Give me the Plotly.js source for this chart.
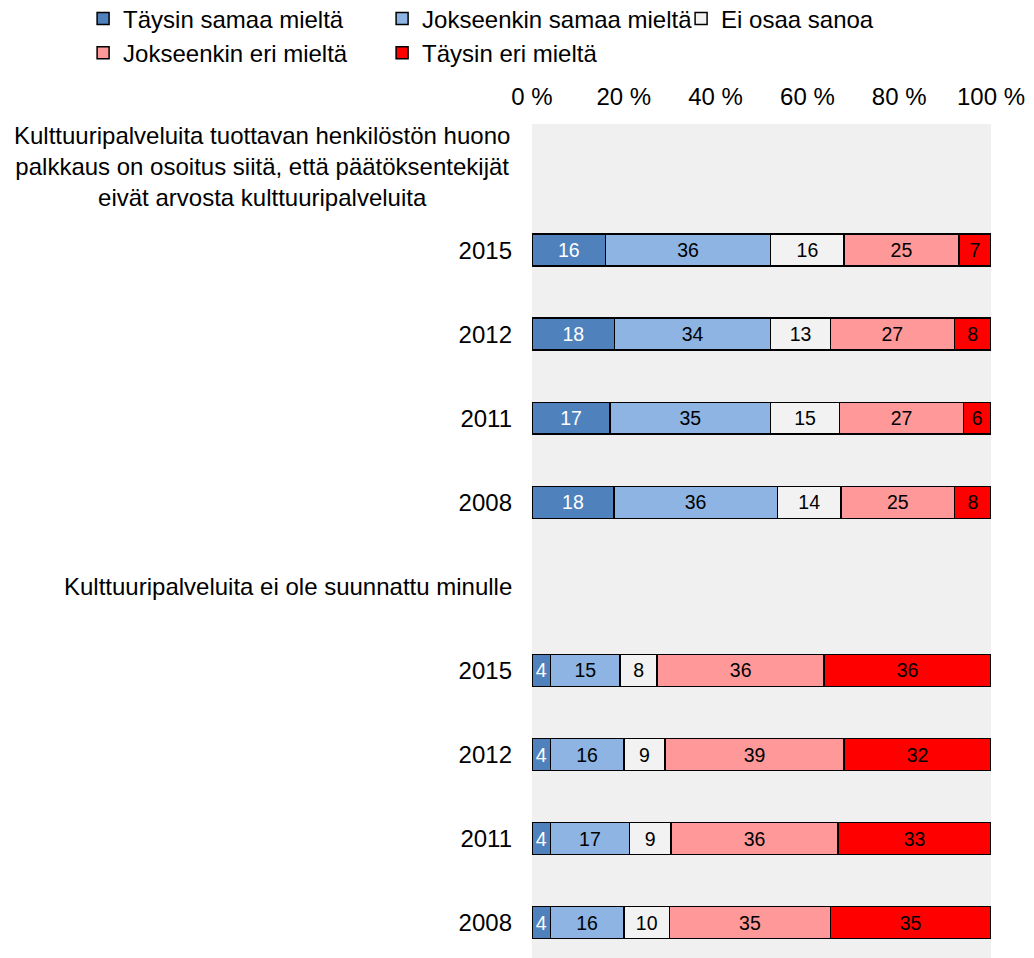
<!DOCTYPE html>
<html>
<head>
<meta charset="utf-8">
<script src="https://cdn.plot.ly/plotly-3.0.1.min.js"></script>
<style>html,body{margin:0;padding:0;background:#fff;overflow:hidden}</style>
</head>
<body>
<div id="chart" style="width:1034px;height:958px"></div>
<script>
// Category rows (top to bottom). Header rows carry no bars.
const categories = ['h1', 'a2015', 'a2012', 'a2011', 'a2008', 'h2', 'b2015', 'b2012', 'b2011', 'b2008'];
const tickLabels = ['', '2015', '2012', '2011', '2008', '', '2015', '2012', '2011', '2008'];
const headerCats = ['h1', 'h2'];
const headerTexts = [
  'Kulttuuripalveluita tuottavan henkilöstön huono<br>palkkaus on osoitus siitä, että päätöksentekijät<br>eivät arvosta kulttuuripalveluita',
  'Kulttuuripalveluita ei ole suunnattu minulle'
];
const xTickVals = [0, 20, 40, 60, 80, 100];
const xTickText = ['0 %', '20 %', '40 %', '60 %', '80 %', '100 %'];

const seriesNames = ['Täysin samaa mieltä', 'Jokseenkin samaa mieltä', 'Ei osaa sanoa', 'Jokseenkin eri mieltä', 'Täysin eri mieltä'];
const taysinSamaa     = [null, 16, 18, 17, 18, null, 4, 4, 4, 4];
const jokseenkinSamaa = [null, 36, 34, 35, 36, null, 15, 16, 17, 16];
const eiOsaa          = [null, 16, 13, 15, 14, null, 8, 9, 9, 10];
const jokseenkinEri   = [null, 25, 27, 27, 25, null, 36, 39, 36, 35];
const taysinEri       = [null, 7, 8, 6, 8, null, 36, 32, 33, 35];
const seriesValues = [taysinSamaa, jokseenkinSamaa, eiOsaa, jokseenkinEri, taysinEri];

const colors = ['#4f81bd', '#8eb4e3', '#f2f2f2', '#ff9999', '#ff0000'];
const textColors = ['#ffffff', '#000000', '#000000', '#000000', '#000000'];
const FONT = 'Arial, "Liberation Sans", sans-serif';

const traces = seriesNames.map((name, i) => ({
  type: 'bar',
  orientation: 'h',
  name: name,
  y: categories,
  x: seriesValues[i],
  text: seriesValues[i].map(v => v === null ? '' : String(v)),
  texttemplate: '%{text}',
  textposition: 'inside',
  insidetextanchor: 'middle',
  constraintext: 'none',
  textfont: {family: FONT, size: 19.5, color: textColors[i]},
  marker: {color: colors[i], line: {color: '#000000', width: 1.5}},
  hoverinfo: 'name+x'
}));

const annotations = headerCats.map((c, i) => ({
  xref: 'paper', yref: 'y',
  x: i === 0 ? -0.044 : -0.039,
  y: c,
  xanchor: 'right', yanchor: 'middle',
  align: 'center',
  text: headerTexts[i],
  showarrow: false,
  font: {family: FONT, size: 24, color: '#000000'}
}));

const layout = {
  width: 1034, height: 958,
  margin: {l: 532, r: 43, t: 124, b: 0, pad: 0, autoexpand: false},
  paper_bgcolor: '#ffffff',
  plot_bgcolor: '#f0f0f0',
  barmode: 'stack',
  barnorm: 'percent',
  bargap: 0.62,
  font: {family: FONT, size: 24, color: '#000000'},
  xaxis: {
    side: 'top',
    range: [0, 100],
    tickmode: 'array',
    tickvals: xTickVals,
    ticktext: xTickText,
    showgrid: false, zeroline: false, showline: false,
    ticks: '',
    ticklabelstandoff: 13,
    tickfont: {family: FONT, size: 24, color: '#000000'},
    fixedrange: true
  },
  yaxis: {
    type: 'category',
    categoryorder: 'array',
    categoryarray: categories,
    tickmode: 'array',
    tickvals: categories,
    ticktext: tickLabels,
    range: [9.42, -0.5],
    showgrid: false, zeroline: false, showline: false,
    ticks: '',
    ticklabelstandoff: 19,
    tickfont: {family: FONT, size: 24, color: '#000000'},
    fixedrange: true
  },
  legend: {
    orientation: 'h',
    x: -0.978, xanchor: 'left',
    y: 1.153, yanchor: 'top',
    entrywidth: 254, entrywidthmode: 'pixels',
    traceorder: 'normal',
    font: {family: FONT, size: 24, color: '#000000'},
    itemclick: false, itemdoubleclick: false,
    bgcolor: 'rgba(0,0,0,0)'
  },
  showlegend: true,
  annotations: annotations
};

Plotly.newPlot('chart', traces, layout, {displayModeBar: false, staticPlot: true});
</script>
</body>
</html>
